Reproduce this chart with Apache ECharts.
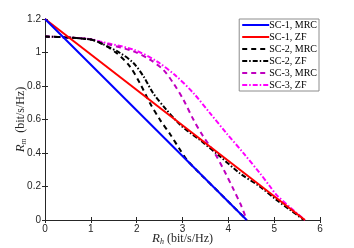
<!DOCTYPE html>
<html><head><meta charset="utf-8">
<script src="https://cdn.jsdelivr.net/npm/echarts@6/dist/echarts.min.js"></script>
<style>html,body{margin:0;padding:0;background:#fff}#c{width:354px;height:248px}</style>
</head><body><div id="c"></div>
<script>
var names = ['SC-1, MRC','SC-1, ZF','SC-2, MRC','SC-2, ZF','SC-3, MRC','SC-3, ZF'];
var rh1m = [0, 4.4];
var rm1m = [1.2, 0];
var rh1z = [0, 5.67];
var rm1z = [1.2, 0];
var rh2m = [0, 0.5, 1.0, 1.2, 1.56, 1.85, 2.07, 2.29, 2.51, 2.73, 2.95, 3.1, 3.4, 3.8, 4.1, 4.4];
var rm2m = [1.095, 1.09, 1.077, 1.058, 0.997, 0.917, 0.817, 0.698, 0.598, 0.512, 0.418, 0.358, 0.272, 0.164, 0.082, 0];
var rh2z = [0, 0.5, 1.0, 1.2, 1.64, 1.93, 2.15, 2.36, 2.65, 2.95, 3.13, 3.38, 3.82, 4.25, 4.69, 5.05, 5.35, 5.65];
var rm2z = [1.095, 1.09, 1.077, 1.058, 0.997, 0.937, 0.857, 0.757, 0.658, 0.568, 0.528, 0.478, 0.379, 0.279, 0.199, 0.12, 0.06, 0];
var rh3m = [0, 0.5, 1.0, 1.2, 1.93, 2.29, 2.58, 2.8, 3.02, 3.24, 3.45, 3.7, 3.9, 4.1, 4.29, 4.4];
var rm3m = [1.095, 1.09, 1.078, 1.062, 1.007, 0.957, 0.897, 0.817, 0.718, 0.598, 0.5, 0.4, 0.3, 0.19, 0.08, 0];
var rh3z = [0, 0.5, 1.0, 1.2, 1.93, 2.44, 2.87, 3.24, 3.6, 3.96, 4.33, 4.69, 4.91, 5.05, 5.35, 5.67];
var rm3z = [1.095, 1.09, 1.08, 1.066, 1.017, 0.947, 0.857, 0.757, 0.638, 0.518, 0.399, 0.279, 0.2, 0.15, 0.075, 0];
var xTicks = [0, 1, 2, 3, 4, 5, 6];
var yTicks = [0, 0.2, 0.4, 0.6, 0.8, 1, 1.2];

function pairs(a, b) { return a.map(function (v, i) { return [v, b[i]]; }); }
var data = [pairs(rh1m, rm1m), pairs(rh1z, rm1z), pairs(rh2m, rm2m), pairs(rh2z, rm2z), pairs(rh3m, rm3m), pairs(rh3z, rm3z)];
var colors = ['#0000ff', '#ff0000', '#000000', '#000000', '#bf00bf', '#ff00ff'];
var types = ['solid', 'solid', [5, 4], [5, 2, 1.5, 2], [5, 4], [5, 2, 1.5, 2]];

var axisColor = '#262626';
var serif = '"Liberation Serif", "DejaVu Serif", serif';
var sans = '"Liberation Sans", Arial, sans-serif';
var rich = {
  i: { fontFamily: serif, fontStyle: 'italic', fontSize: 13, color: axisColor },
  s: { fontFamily: serif, fontStyle: 'italic', fontSize: 8, color: axisColor, padding: [7, 0, 0, 0] },
  n: { fontFamily: serif, fontSize: 12, color: axisColor }
};
var chart = echarts.init(document.getElementById('c'), null, { renderer: 'canvas' });
chart.setOption({
  animation: false,
  backgroundColor: '#fff',
  grid: { left: 45, right: 34, top: 19, bottom: 28, containLabel: false, outerBoundsMode: 'none' },
  legend: {
    orient: 'vertical', right: 35, top: 19,
    data: names,
    itemWidth: 27, itemHeight: 10, itemGap: 2,
    padding: [1, 2, 1, 2],
    backgroundColor: '#fff', borderColor: '#8c8c8c', borderWidth: 1,
    itemStyle: { opacity: 0 },
    textStyle: { fontFamily: serif, fontSize: 10, color: '#000', padding: [0, 0, 0, -5] }
  },
  xAxis: [{
    type: 'value', min: 0, max: 6, interval: 1,
    name: '{i|R}{s|h}{n| (bit/s/Hz)}', nameLocation: 'middle', nameGap: 11, nameMoveOverlap: false,
    nameTextStyle: { rich: rich },
    axisLine: { lineStyle: { color: axisColor, width: 1 } },
    axisTick: { inside: true, length: 3, lineStyle: { color: axisColor } },
    axisLabel: { color: axisColor, fontFamily: sans, fontSize: 10, margin: 4,
      formatter: function (v) { return xTicks.indexOf(v) >= 0 ? String(v) : ''; } },
    splitLine: { show: false }
  }, {
    type: 'value', min: 0, max: 6, interval: 1, position: 'top',
    axisLine: { show: true, lineStyle: { color: axisColor, width: 1 } },
    axisTick: { inside: true, length: 3, lineStyle: { color: axisColor } },
    axisLabel: { show: false }, splitLine: { show: false }
  }],
  yAxis: [{
    type: 'value', min: 0, max: 1.2, interval: 0.2,
    name: '{i|R}{s|m}{n|  (bit/s/Hz)}', nameLocation: 'middle', nameGap: 17, nameRotate: 90, nameMoveOverlap: false,
    nameTextStyle: { rich: rich },
    axisLine: { show: true, lineStyle: { color: axisColor, width: 1 } },
    axisTick: { show: true, inside: true, length: 3, lineStyle: { color: axisColor } },
    axisLabel: { color: axisColor, fontFamily: sans, fontSize: 10, margin: 4,
      formatter: function (v) { var r = Math.round(v * 10) / 10; return String(r); } },
    splitLine: { show: false }
  }, {
    type: 'value', min: 0, max: 1.2, interval: 0.2, position: 'right',
    axisLine: { show: true, lineStyle: { color: axisColor, width: 1 } },
    axisTick: { show: true, inside: true, length: 3, lineStyle: { color: axisColor } },
    axisLabel: { show: false }, splitLine: { show: false }
  }],
  series: names.map(function (n, k) {
    return {
      name: n, type: 'line', data: data[k], symbol: 'none', smooth: k >= 2 ? 0.3 : false,
      xAxisIndex: 0, yAxisIndex: 0,
      color: colors[k],
      lineStyle: { color: colors[k], width: 2, type: types[k] },
      z: 10 - k
    };
  })
});
</script></body></html>
